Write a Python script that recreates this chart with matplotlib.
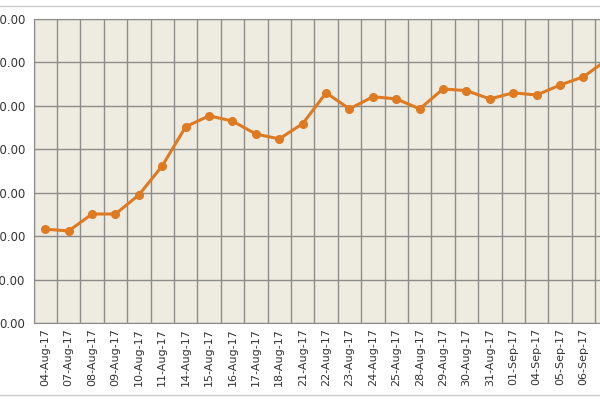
import matplotlib
matplotlib.use("Agg")
import matplotlib.pyplot as plt

dates = ["04-Aug-17","07-Aug-17","08-Aug-17","09-Aug-17","10-Aug-17","11-Aug-17","14-Aug-17",
         "15-Aug-17","16-Aug-17","17-Aug-17","18-Aug-17","21-Aug-17","22-Aug-17","23-Aug-17",
         "24-Aug-17","25-Aug-17","28-Aug-17","29-Aug-17","30-Aug-17","31-Aug-17","01-Sep-17",
         "04-Sep-17","05-Sep-17","06-Sep-17","07-Sep-17"]
values = [21.6,21.2,25.1,25.1,29.5,36.2,45.2,47.7,46.5,43.5,42.4,45.9,53.0,49.3,52.1,51.6,
          49.3,53.9,53.5,51.6,53.0,52.5,54.8,56.7,60.6]
yticks = [0,10,20,30,40,50,60,70]

fig = plt.figure(figsize=(6,4), dpi=100)
ax = fig.add_axes([0.056, 0.1925, 0.975, 0.76])
ax.set_facecolor("#EEEBE1")
x = list(range(len(dates)))
ax.plot(x, values, color="#DE7A22", lw=2.2, marker="o", ms=5.5, zorder=3)
ax.set_xlim(-0.5, len(dates)-0.5)
ax.set_ylim(0, 70)
ax.set_yticks(yticks)
ax.set_yticklabels([f"{v:.2f}" for v in yticks], fontsize=8.5, color="#333333")
ax.set_xticks(x)
ax.set_xticklabels(dates, rotation=90, fontsize=8, color="#333333")
ax.set_xticks([i-0.5 for i in range(len(dates)+1)], minor=True)
ax.grid(True, which="minor", axis="x", color="#8c8c88", lw=1)
ax.grid(True, which="major", axis="y", color="#8c8c88", lw=1)
ax.tick_params(axis="both", which="both", length=0)
ax.tick_params(axis="y", pad=6)
for s in ax.spines.values():
    s.set_color("#8c8c88")
fig.add_artist(plt.Line2D([0,1],[0.985,0.985], color="#cccccc", lw=1))
fig.add_artist(plt.Line2D([0,1],[0.012,0.012], color="#cccccc", lw=1))
fig.savefig("out.png", dpi=100)
